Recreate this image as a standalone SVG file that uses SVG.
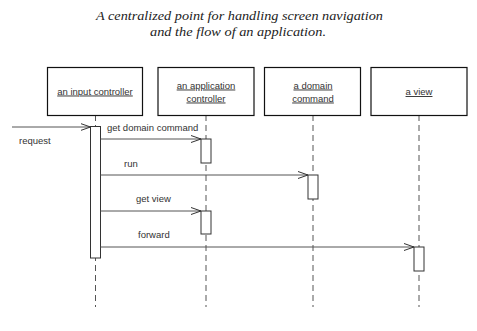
<svg xmlns="http://www.w3.org/2000/svg" width="477" height="331" viewBox="0 0 477 331">
  <style>
    .title { font-family: "Liberation Serif", "Times New Roman", serif; font-style: italic; font-size: 13.5px; fill: #222; text-anchor: middle; }
    .box { fill: #fff; stroke: #111; stroke-width: 1.2; }
    .name { font-family: "Liberation Sans", Arial, sans-serif; font-size: 9.5px; fill: #333; text-anchor: middle; text-decoration: underline; }
    .life { stroke: #555; stroke-width: 1; stroke-dasharray: 6 4; fill: none; }
    .act { fill: #fff; stroke: #333; stroke-width: 1; }
    .msg { stroke: #555; stroke-width: 1; fill: none; marker-end: url(#open); }
    .lbl { font-family: "Liberation Sans", Arial, sans-serif; font-size: 9.5px; fill: #333; }
  </style>
  <defs>
    <marker id="open" markerUnits="userSpaceOnUse" markerWidth="12" markerHeight="10" refX="10" refY="4" orient="auto">
      <path d="M0,0.5 L10,4 L0,7.5" fill="none" stroke="#333" stroke-width="1"/>
    </marker>
  </defs>

  <text class="title" x="239.5" y="19.5" textLength="287" lengthAdjust="spacingAndGlyphs">A centralized point for handling screen navigation</text>
  <text class="title" x="238" y="35.5" textLength="176" lengthAdjust="spacingAndGlyphs">and the flow of an application.</text>

  <!-- lifelines -->
  <g id="lifelines">
    <line class="life" x1="95.5" y1="115" x2="95.5" y2="307"/>
    <line class="life" x1="206" y1="115" x2="206" y2="307"/>
    <line class="life" x1="313" y1="115" x2="313" y2="307"/>
    <line class="life" x1="419" y1="115" x2="419" y2="307"/>
  </g>

  <g id="input-controller">
    <rect class="box" x="47.5" y="67.5" width="95" height="48"/>
    <text class="name" x="95" y="94.5">an input controller</text>
    <rect class="act" x="90.5" y="126.5" width="10" height="131.5"/>
  </g>

  <g id="application-controller">
    <rect class="box" x="158" y="67.5" width="96" height="48"/>
    <text class="name" x="206" y="88.5">an application</text>
    <text class="name" x="206" y="101.5">controller</text>
    <rect class="act" x="201" y="139" width="10" height="24"/>
    <rect class="act" x="201" y="211" width="10" height="23"/>
  </g>

  <g id="domain-command">
    <rect class="box" x="264.5" y="67.5" width="96" height="48"/>
    <text class="name" x="313" y="88.5">a domain</text>
    <text class="name" x="313" y="101.5">command</text>
    <rect class="act" x="308" y="175" width="10" height="24"/>
  </g>

  <g id="view">
    <rect class="box" x="371" y="67.5" width="96" height="48"/>
    <text class="name" x="419" y="95">a view</text>
    <rect class="act" x="414" y="247" width="10" height="24"/>
  </g>

  <!-- messages -->
  <g id="connectors">
    <line class="msg" x1="12" y1="127" x2="90.5" y2="127"/>
    <line class="msg" x1="100.5" y1="139" x2="201" y2="139"/>
    <line class="msg" x1="100.5" y1="175" x2="308" y2="175"/>
    <line class="msg" x1="100.5" y1="211" x2="201" y2="211"/>
    <line class="msg" x1="100.5" y1="247" x2="414" y2="247"/>
    <text class="lbl" x="19" y="143.5">request</text>
    <text class="lbl" x="107" y="130.5">get domain command</text>
    <text class="lbl" x="124" y="166.5">run</text>
    <text class="lbl" x="136" y="201.5">get view</text>
    <text class="lbl" x="138" y="237.5">forward</text>
  </g>
</svg>
